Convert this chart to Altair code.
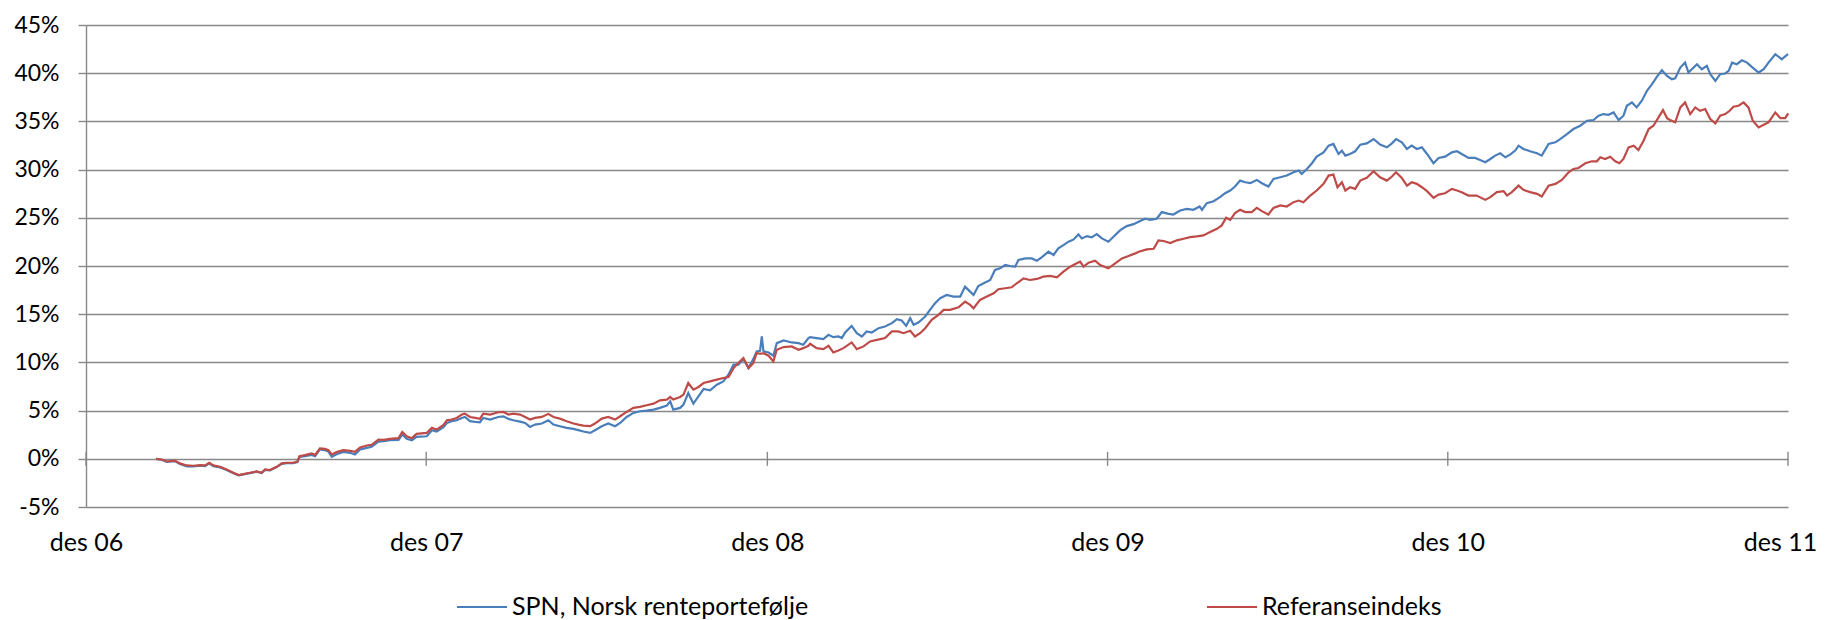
import altair as alt
import pandas as pd
import numpy as np

SPN = "SPN, Norsk renteportefølje"
REF = "Referanseindeks"
BLUE = "#4A7EBB"
RED = "#BE4B48"
GRAY = "#888888"
FONT = "Lato"

# ---- data: years after "des 06" and accumulated return in percent ----
years_0708 = [0.206, 0.222, 0.237, 0.261, 0.276, 0.296, 0.315, 0.335, 0.350, 0.362,
              0.374, 0.394, 0.413, 0.433, 0.448, 0.462, 0.482, 0.501, 0.516, 0.526,
              0.540, 0.560, 0.575, 0.590, 0.609, 0.621, 0.627, 0.643, 0.663, 0.673,
              0.687, 0.702, 0.712, 0.722, 0.736, 0.756, 0.776, 0.790, 0.805, 0.825,
              0.839, 0.859, 0.874, 0.893, 0.918, 0.929, 0.942, 0.957, 0.971, 1.001,
              1.016, 1.030, 1.050, 1.060, 1.074, 1.089, 1.104, 1.113, 1.128, 1.143,
              1.157,
              1.167, 1.187, 1.211, 1.226, 1.241, 1.255, 1.275, 1.290, 1.304, 1.319,
              1.339, 1.358, 1.373, 1.392, 1.412, 1.432, 1.446, 1.461, 1.481, 1.495,
              1.515, 1.534, 1.554, 1.569, 1.588, 1.608, 1.627, 1.647, 1.667, 1.686,
              1.706, 1.716, 1.725, 1.745, 1.755, 1.769, 1.784, 1.799, 1.814, 1.833,
              1.853, 1.872, 1.887, 1.902, 1.916, 1.931, 1.946, 1.960, 1.970, 1.980,
              1.985, 1.990, 2.005, 2.019, 2.029, 2.049, 2.073, 2.093, 2.107, 2.122]

spn_0708 = [0.0, -0.1, -0.31, -0.24, -0.55, -0.79, -0.8, -0.72, -0.76, -0.48,
            -0.76, -0.9, -1.17, -1.5, -1.72, -1.62, -1.48, -1.34, -1.48, -1.14,
            -1.2, -0.86, -0.52, -0.45, -0.45, -0.34, 0.2, 0.28, 0.41, 0.28,
            0.97, 0.9, 0.75, 0.21, 0.48, 0.72, 0.62, 0.45, 0.97, 1.14,
            1.24, 1.79, 1.83, 1.93, 1.97, 2.52, 2.07, 1.93, 2.28, 2.34,
            2.97, 2.83, 3.28, 3.72, 3.9, 4.0, 4.24, 4.34, 3.9, 3.83,
            3.79,
            4.24, 4.07, 4.34, 4.41, 4.14, 4.0, 3.86, 3.72, 3.31, 3.55,
            3.66, 4.0, 3.55, 3.38, 3.21, 3.1, 2.97, 2.83, 2.69, 2.97,
            3.38, 3.66, 3.38, 3.72, 4.34, 4.76, 4.93, 5.0, 5.1, 5.28,
            5.52, 5.97, 5.1, 5.28, 5.62, 6.83, 5.72, 6.48, 7.24, 7.1,
            7.69, 8.03, 8.72, 9.76, 9.76, 10.34, 9.41, 10.34, 11.14, 11.2,
            12.69, 11.14, 11.03, 10.69, 12.0, 12.28, 12.07, 12.0, 11.83, 12.52]

ref_0708 = [0.0, -0.07, -0.28, -0.2, -0.48, -0.69, -0.72, -0.65, -0.69, -0.41,
            -0.69, -0.83, -1.1, -1.45, -1.69, -1.59, -1.45, -1.31, -1.45, -1.1,
            -1.17, -0.83, -0.48, -0.41, -0.41, -0.28, 0.28, 0.38, 0.55, 0.41,
            1.07, 1.03, 0.9, 0.45, 0.69, 0.9, 0.83, 0.72, 1.17, 1.38,
            1.45, 2.0, 1.97, 2.07, 2.14, 2.79, 2.34, 2.14, 2.59, 2.69,
            3.21, 3.03, 3.52, 4.0, 4.07, 4.24, 4.59, 4.69, 4.34, 4.24,
            4.14,
            4.69, 4.59, 4.83, 4.86, 4.59, 4.69, 4.59, 4.34, 4.07, 4.24,
            4.34, 4.66, 4.34, 4.17, 3.9, 3.66, 3.55, 3.45, 3.38, 3.66,
            4.17, 4.34, 4.07, 4.41, 4.86, 5.28, 5.38, 5.55, 5.72, 6.07,
            6.14, 6.41, 6.14, 6.41, 6.66, 7.86, 7.17, 7.45, 7.86, 8.03,
            8.21, 8.38, 8.48, 9.41, 9.93, 10.45, 9.41, 9.93, 10.97, 10.9,
            10.9, 10.95, 10.69, 10.1, 11.31, 11.59, 11.66, 11.31, 11.48, 11.72]

spn_years_0911 = [2.127, 2.146, 2.166, 2.181, 2.195, 2.210, 2.220, 2.230, 2.249, 2.264,
                  2.279, 2.293, 2.308, 2.328, 2.347, 2.367, 2.382, 2.396, 2.409, 2.421,
                  2.431, 2.445, 2.465, 2.479, 2.494, 2.509, 2.528, 2.548, 2.568, 2.582,
                  2.597, 2.607, 2.621, 2.641, 2.656, 2.670, 2.685, 2.700, 2.714, 2.729,
                  2.739, 2.759, 2.778, 2.793, 2.807, 2.827, 2.842, 2.856, 2.871, 2.886,
                  2.901, 2.915, 2.925, 2.940, 2.954, 2.969, 2.984, 3.003, 3.018, 3.038,
                  3.057, 3.077, 3.092,
                  3.111, 3.126, 3.145, 3.160, 3.180, 3.194, 3.214, 3.233, 3.253, 3.271,
                  3.278, 3.292, 3.312, 3.331, 3.346, 3.361, 3.375, 3.390, 3.405, 3.420,
                  3.439, 3.454, 3.473, 3.488, 3.508, 3.527, 3.547, 3.562, 3.571, 3.586,
                  3.601, 3.615, 3.635, 3.650, 3.664, 3.679, 3.689, 3.699, 3.713, 3.728,
                  3.743, 3.762, 3.782, 3.801, 3.821, 3.836, 3.848, 3.865, 3.880, 3.894,
                  3.909, 3.924, 3.939, 3.958, 3.973, 3.992, 4.012, 4.027, 4.041, 4.061,
                  4.080, 4.095, 4.110, 4.125, 4.139, 4.154, 4.169, 4.183, 4.198, 4.208,
                  4.222, 4.242, 4.262, 4.276, 4.296, 4.316, 4.330, 4.350, 4.369, 4.389,
                  4.409, 4.428, 4.443, 4.457, 4.472, 4.487, 4.502, 4.516, 4.526, 4.541,
                  4.555, 4.570, 4.585, 4.600, 4.614, 4.629, 4.644, 4.658, 4.668, 4.683,
                  4.697, 4.707, 4.722, 4.732, 4.746, 4.761, 4.771, 4.786, 4.800, 4.815,
                  4.825, 4.835, 4.849, 4.864, 4.879, 4.893, 4.913, 4.928, 4.942, 4.962,
                  4.981, 4.996, 5.0]

spn_0911 = [12.62, 12.52, 12.41, 12.86, 12.62, 12.69, 12.52, 13.1, 13.79, 13.03,
            12.69, 13.21, 13.1, 13.55, 13.72, 14.07, 14.48, 14.34, 13.79, 14.59,
            13.9, 14.14, 14.76, 15.45, 16.14, 16.66, 17.0, 16.83, 16.83, 17.86,
            17.34, 17.0, 17.93, 18.28, 18.55, 19.59, 19.76, 20.1, 20.0, 19.93,
            20.62, 20.79, 20.79, 20.55, 20.9, 21.48, 21.14, 21.83, 22.17, 22.52,
            22.76, 23.28, 22.86, 23.1, 22.97, 23.31, 22.86, 22.52, 23.03, 23.72,
            24.14, 24.34, 24.59,
            24.9, 24.79, 24.9, 25.59, 25.41, 25.34, 25.76, 25.93, 25.83, 26.17,
            25.83, 26.52, 26.72, 27.14, 27.55, 27.83, 28.24, 28.86, 28.69, 28.59,
            28.93, 28.59, 28.24, 29.03, 29.21, 29.38, 29.72, 29.9, 29.55, 30.07,
            30.66, 31.34, 31.79, 32.48, 32.66, 31.62, 31.97, 31.45, 31.62, 31.9,
            32.59, 32.72, 33.17, 32.59, 32.31, 32.72, 33.17, 32.83, 32.14, 32.48,
            32.14, 32.31, 31.62, 30.66, 31.21, 31.34, 31.79, 31.9, 31.62, 31.21,
            31.21, 31.0, 30.76, 31.1, 31.45, 31.69, 31.28, 31.55, 31.97, 32.48,
            32.14, 31.9, 31.69, 31.45, 32.66, 32.83, 33.17, 33.69, 34.21, 34.55,
            35.07, 35.14, 35.59, 35.76, 35.69, 35.93, 35.14, 35.59, 36.62, 36.97,
            36.45, 37.14, 38.17, 38.86, 39.62, 40.31, 39.72, 39.38, 39.48, 40.59,
            41.1, 40.07, 40.59, 40.93, 40.41, 40.76, 39.9, 39.21, 39.9, 39.97,
            40.24, 41.1, 40.93, 41.34, 41.1, 40.66, 40.07, 40.41, 41.1, 41.97,
            41.45, 41.9, 41.97]

ref_years_0911 = [2.127, 2.146, 2.166, 2.181, 2.195, 2.210, 2.225, 2.249, 2.264, 2.284,
                  2.303, 2.323, 2.347, 2.367, 2.386, 2.401, 2.421, 2.435, 2.450, 2.465,
                  2.484, 2.504, 2.519, 2.538, 2.563, 2.582, 2.597, 2.607, 2.626, 2.646,
                  2.666, 2.680, 2.700, 2.719, 2.734, 2.754, 2.773, 2.793, 2.812, 2.832,
                  2.852, 2.871, 2.891, 2.910, 2.920, 2.930, 2.945, 2.964, 2.979, 3.003,
                  3.023, 3.043, 3.062, 3.082, 3.092,
                  3.116, 3.136, 3.150, 3.165, 3.185, 3.204, 3.224, 3.243, 3.263, 3.282,
                  3.302, 3.322, 3.336, 3.349, 3.361, 3.375, 3.390, 3.405, 3.424, 3.439,
                  3.454, 3.473, 3.488, 3.508, 3.527, 3.547, 3.562, 3.576, 3.596, 3.615,
                  3.635, 3.650, 3.664, 3.676, 3.689, 3.699, 3.713, 3.728, 3.743, 3.762,
                  3.782, 3.801, 3.821, 3.836, 3.848, 3.865, 3.880, 3.894, 3.909, 3.924,
                  3.939, 3.958, 3.973, 3.992, 4.012, 4.027, 4.041, 4.061,
                  4.085, 4.110, 4.125, 4.144, 4.164, 4.174, 4.188, 4.208, 4.222, 4.242,
                  4.262, 4.276, 4.296, 4.316, 4.335, 4.355, 4.369, 4.384, 4.404, 4.423,
                  4.438, 4.448, 4.462, 4.477, 4.492, 4.504, 4.516, 4.531, 4.546, 4.560,
                  4.575, 4.590, 4.604, 4.619, 4.632, 4.644, 4.653, 4.668, 4.683, 4.697,
                  4.712, 4.727, 4.741, 4.756, 4.771, 4.786, 4.800, 4.815, 4.828, 4.839,
                  4.854, 4.869, 4.883, 4.896, 4.913, 4.928, 4.942, 4.962, 4.977, 4.991,
                  5.0]

ref_0911 = [11.93, 11.48, 11.38, 11.72, 11.03, 11.24, 11.48, 12.07, 11.38, 11.66,
            12.17, 12.34, 12.52, 13.21, 13.21, 13.03, 13.28, 12.69, 13.03, 13.55,
            14.41, 14.93, 15.45, 15.45, 15.72, 16.31, 15.97, 15.62, 16.48, 16.83,
            17.17, 17.59, 17.69, 17.79, 18.21, 18.72, 18.55, 18.66, 18.9, 18.97,
            18.83, 19.41, 19.93, 20.28, 20.45, 19.93, 20.34, 20.55, 20.1, 19.76,
            20.28, 20.79, 21.03, 21.31, 21.48,
            21.72, 21.79, 22.66, 22.59, 22.38, 22.66, 22.83, 23.0, 23.07, 23.17,
            23.52, 23.86, 24.21, 25.0, 24.79, 25.48, 25.83, 25.59, 25.59, 26.03,
            25.69, 25.34, 26.03, 26.28, 26.17, 26.62, 26.79, 26.62, 27.31, 27.83,
            28.52, 29.38, 29.48, 28.17, 28.69, 27.83, 28.17, 28.0, 28.86, 29.14,
            29.83, 29.21, 28.86, 29.28, 29.72, 29.14, 28.34, 28.69, 28.52, 28.17,
            27.76, 27.07, 27.41, 27.55, 28.0, 27.83, 27.66, 27.31,
            27.31, 26.86, 27.14, 27.66, 27.76, 27.31, 27.66, 28.34, 27.9, 27.66,
            27.48, 27.21, 28.34, 28.52, 28.93, 29.72, 30.07, 30.17, 30.66, 30.86,
            30.86, 31.28, 31.1, 31.34, 30.86, 30.66, 31.1, 32.31, 32.48, 32.03,
            33.0, 34.21, 34.55, 35.41, 36.17, 35.34, 35.14, 34.9, 36.45, 36.97,
            35.76, 36.45, 36.1, 36.28, 35.24, 34.79, 35.59, 35.76, 36.1, 36.52,
            36.62, 36.97, 36.45, 35.07, 34.38, 34.66, 34.9, 35.93, 35.34, 35.34,
            35.83]

tick_years = [2006, 2007, 2008, 2009, 2010, 2011]
y_ticks = [-5, 0, 5, 10, 15, 20, 25, 30, 35, 40, 45]

# ---- build table ----
START = pd.Timestamp("2006-12-31")


def to_dates(years):
    return START + pd.to_timedelta(np.asarray(years) * 365.25, unit="D")


spn_df = pd.DataFrame({"dato": to_dates(years_0708 + spn_years_0911),
                       "avkastning": spn_0708 + spn_0911, "serie": SPN})
ref_df = pd.DataFrame({"dato": to_dates(years_0708 + ref_years_0911),
                       "avkastning": ref_0708 + ref_0911, "serie": REF})
df = pd.concat([spn_df, ref_df], ignore_index=True)

ticks_df = pd.DataFrame({"dato": [pd.Timestamp(f"{y}-12-31") for y in tick_years],
                         "avkastning": [0] * len(tick_years)})

tick_dt = [alt.DateTime(year=y, month=12, date=31) for y in tick_years]
last_year = tick_years[-1]

x_enc = alt.X(
    "dato:T",
    scale=alt.Scale(domain=[tick_dt[0], tick_dt[-1]]),
    axis=alt.Axis(
        values=tick_dt, title=None, grid=False, domain=False, ticks=False, tickSize=0,
        labelExpr="'des ' + timeFormat(datum.value, '%y')",
        labelPadding=43, labelBaseline="alphabetic", labelFlush=False,
        labelOverlap=False, labelBound=False,
        labelOffset={"condition": {"test": f"year(datum.value) >= {last_year}", "value": -8},
                     "value": 0},
        labelFont=FONT, labelFontSize=25, labelColor="black",
    ),
)
y_enc = alt.Y(
    "avkastning:Q",
    scale=alt.Scale(domain=[-5, 45], nice=False, zero=False),
    axis=alt.Axis(
        values=y_ticks, title=None, labelExpr="datum.value + '%'",
        grid=True, gridColor=GRAY, gridWidth=1.4,
        domain=True, domainColor=GRAY, domainWidth=1.4,
        ticks=True, tickColor=GRAY, tickWidth=1.4, tickSize=8,
        labelPadding=19, labelFont=FONT, labelFontSize=23, labelColor="black",
    ),
)
color_enc = alt.Color(
    "serie:N",
    scale=alt.Scale(domain=[SPN, REF], range=[BLUE, RED]),
    legend=alt.Legend(
        title=None, orient="none", direction="horizontal",
        legendX=370, legendY=556,
        symbolType="stroke", symbolSize=2500, symbolStrokeWidth=2,
        labelFont=FONT, labelFontSize=25, labelColor="black",
        labelOffset=4, columnPadding=394, labelLimit=600,
    ),
)

base = alt.Chart(df)
spn_line = base.transform_filter(alt.datum.serie == SPN).mark_line(strokeWidth=2.2).encode(
    x=x_enc, y=y_enc, color=color_enc)
ref_line = base.transform_filter(alt.datum.serie == REF).mark_line(strokeWidth=2.2).encode(
    x=x_enc, y=y_enc, color=color_enc)
tick_marks = alt.Chart(ticks_df).mark_tick(
    orient="vertical", size=14, thickness=1.4, color=GRAY, opacity=1
).encode(x="dato:T", y="avkastning:Q")

chart = alt.layer(spn_line, ref_line, tick_marks).properties(
    width=1702, height=482,
    padding={"left": 78, "top": 17, "right": 29, "bottom": 113},
    autosize=alt.AutoSizeParams(type="none"),
    background="white",
).configure_view(stroke=None)

chart.save("out.html", embed_options={"renderer": "svg", "actions": False})
